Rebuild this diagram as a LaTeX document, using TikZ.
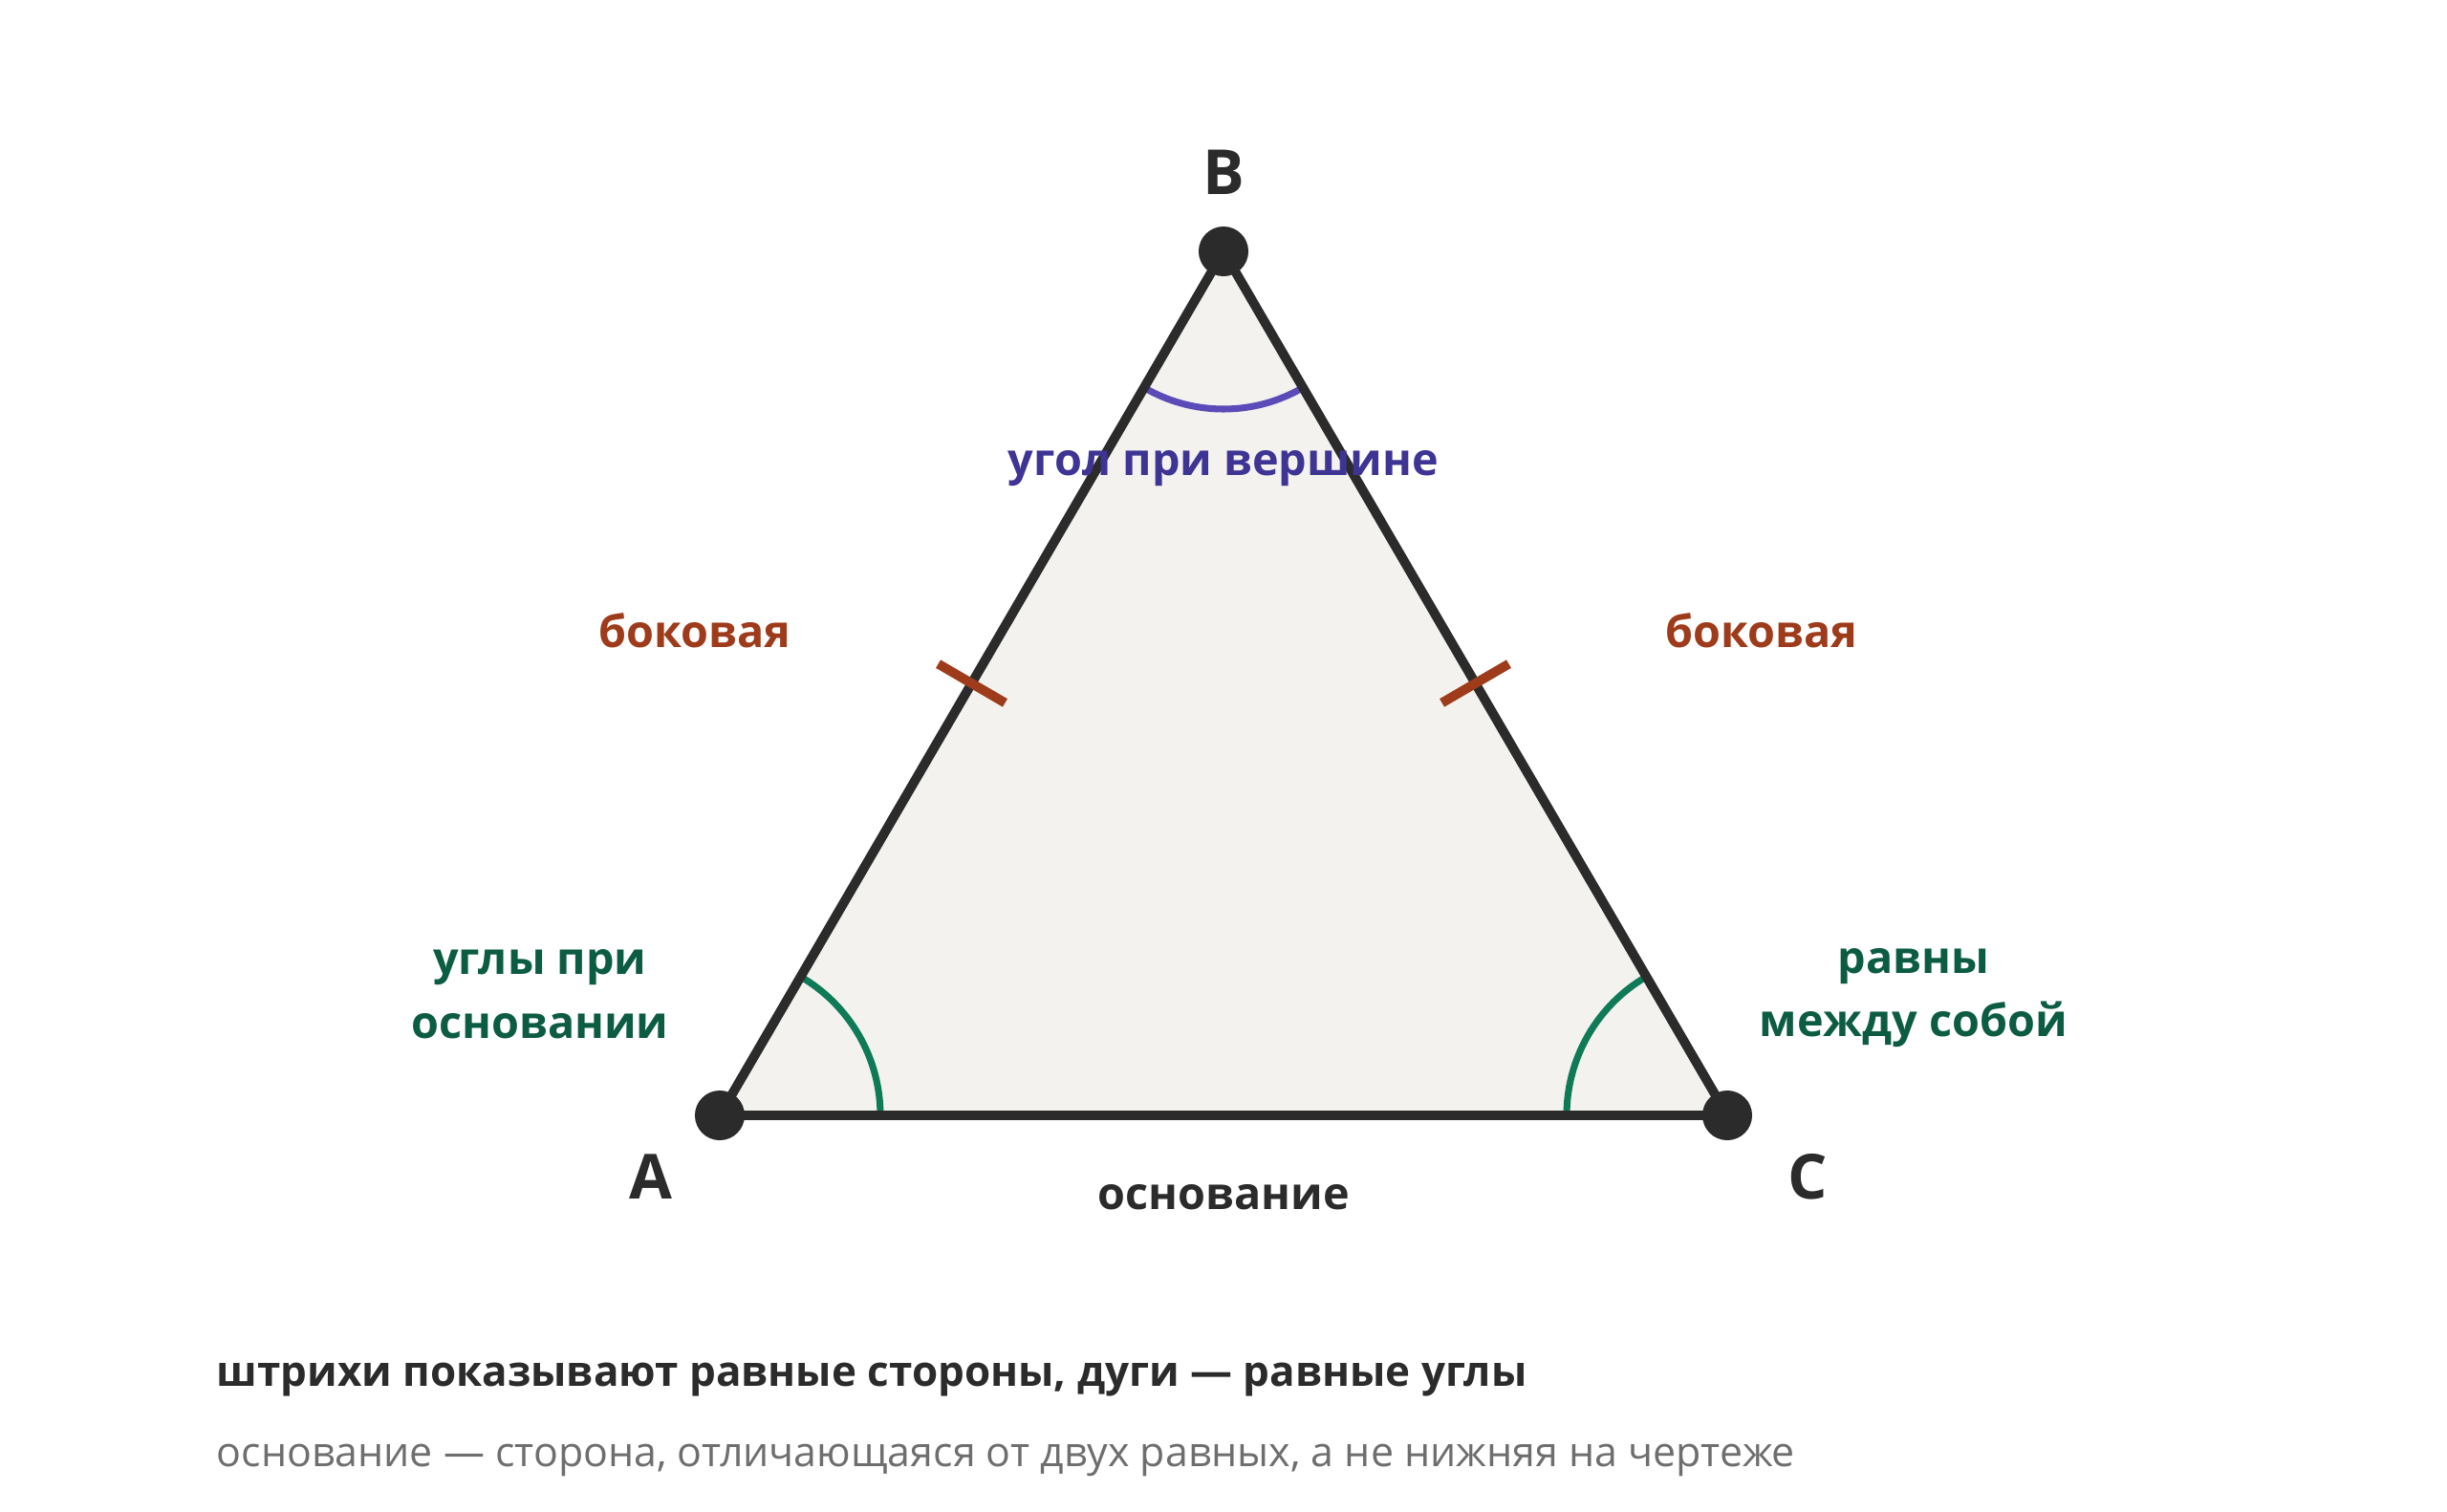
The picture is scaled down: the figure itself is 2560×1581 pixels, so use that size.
\documentclass[tikz,border=0pt]{standalone}
\usepackage{fontspec}
\setmainfont{Open Sans}
\usetikzlibrary{positioning,calc}

\definecolor{edge}{HTML}{2B2B2B}
\definecolor{face}{HTML}{F3F2EE}
\definecolor{tickred}{HTML}{9E3B1B}
\definecolor{apexarc}{HTML}{5A4BB8}
\definecolor{apextext}{HTML}{3E3494}
\definecolor{basearc}{HTML}{0E7A58}
\definecolor{basetext}{HTML}{0C5C43}
\definecolor{note}{HTML}{6E6E6E}

\tikzset{
  side/.style={draw=edge, line width=2.8pt, line join=round},
  vertexdot/.style={circle, fill=edge, inner sep=0pt, minimum size=14.8pt},
  sidetick/.style={draw=tickred, line width=2.8pt},
  toparc/.style={draw=apexarc, line width=2pt},
  botarc/.style={draw=basearc, line width=2pt},
  vname/.style={font=\bfseries\fontsize{18.5}{23}\selectfont, text=edge},
  lbl/.style={font=\bfseries\fontsize{13.3}{19}\selectfont, inner sep=0pt},
}

\begin{document}
\begin{tikzpicture}[x=0.01cm, y=-0.01cm]
  \useasboundingbox (0,0) rectangle (2560,1581);
  % vertices
  \coordinate (A) at (753,1167);
  \coordinate (B) at (1280,263);
  \coordinate (C) at (1807,1167);
  \fill [face] (A) -- (B) -- (C) -- cycle;
  % angle arcs
  \draw [toparc] ($(B)+(120:165)$) arc [start angle=120, end angle=60, radius=165];
  \draw [botarc] ($(A)+(0:168)$) arc [start angle=0, end angle=-60, radius=168];
  \draw [botarc] ($(C)+(180:168)$) arc [start angle=180, end angle=240, radius=168];
  % sides
  \draw [side] (A) -- (B) -- (C) -- cycle;
  % equal-side ticks
  \coordinate (mAB) at ($(A)!0.5!(B)$);
  \coordinate (mBC) at ($(B)!0.5!(C)$);
  \draw [sidetick] ($(mAB)!11.5pt!90:(B)$) -- ($(mAB)!11.5pt!-90:(B)$);
  \draw [sidetick] ($(mBC)!11.5pt!90:(B)$) -- ($(mBC)!11.5pt!-90:(B)$);
  \node [vertexdot] (dotA) at (A) {};
  \node [vertexdot] (dotB) at (B) {};
  \node [vertexdot] (dotC) at (C) {};
  % vertex names
  \node [vname] (nameB) at (1280,180) {B};
  \node [vname] (nameA) at (681,1231) {A};
  \node [vname] (nameC) at (1891,1231) {C};
  % labels
  \node [lbl, text=apextext] (apexlbl) at (1280,490) {угол при вершине};
  \node [lbl, text=tickred] (leftside) at (727,660) {боковая};
  \node [lbl, text=tickred] (rightside) at (1843,660) {боковая};
  \node [lbl, text=edge] (baselbl) at (1280,1253) {основание};
  \node [lbl, text=basetext, align=center] (leftangles) at (565,1040) {углы при\\основании};
  \node [lbl, text=basetext, align=center] (rightangles) at (2002,1044) {равны\\между собой};
  % notes below
  \node [anchor=west, inner sep=0pt, text=edge, font=\bfseries\fontsize{12.5}{18}\selectfont] (hint) at (226,1444)
    {штрихи показывают равные стороны, дуги — равные углы};
  \node [anchor=west, inner sep=0pt, text=note, font=\fontsize{12.2}{18}\selectfont] (remark) at (226,1528)
    {основание — сторона, отличающаяся от двух равных, а не нижняя на чертеже};
\end{tikzpicture}
\end{document}
